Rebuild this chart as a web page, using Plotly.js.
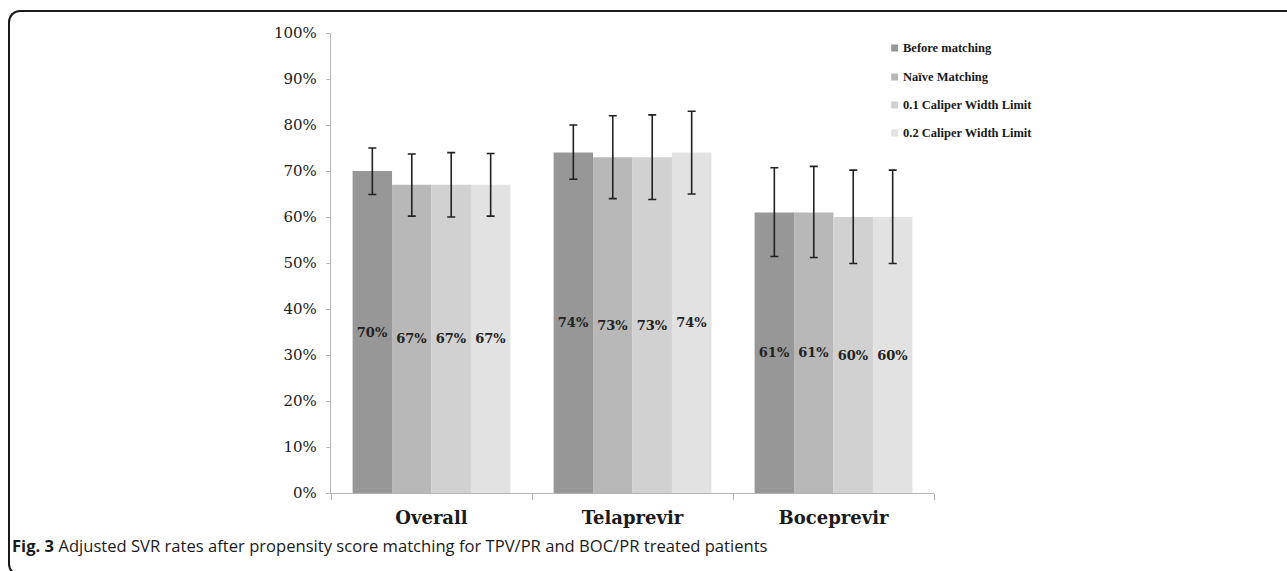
<!DOCTYPE html>
<html>
<head>
<meta charset="utf-8">
<script src="https://cdn.plot.ly/plotly-3.0.1.min.js"></script>
<style>
  html, body { margin:0; padding:0; background:#fff; }
  #chart { width:1287px; height:571px; position:absolute; left:0; top:0; }
  #frame { position:absolute; left:8px; top:10px; width:1300px; height:566px; box-sizing:border-box;
           border-top:2px solid #1a1a1a; border-left:2px solid #1a1a1a; border-bottom:2px solid #1a1a1a;
           border-radius:12px 0 0 12px; pointer-events:none; }
</style>
</head>
<body>
<div id="chart"></div>
<div id="frame"></div>
<script>
const categories = ["Overall", "Telaprevir", "Boceprevir"];
const seriesNames = ["Before matching", "Naïve Matching", "0.1 Caliper Width Limit", "0.2 Caliper Width Limit"];
const beforeMatching = [70, 74, 61];
const naiveMatching = [67, 73, 61];
const caliper01 = [67, 73, 60];
const caliper02 = [67, 74, 60];
const upperBefore = [75, 80, 70.7];
const lowerBefore = [64.9, 68.2, 51.4];
const upperNaive = [73.7, 82, 71];
const lowerNaive = [60.2, 64, 51.2];
const upperCal01 = [74, 82.2, 70.2];
const lowerCal01 = [60, 63.8, 49.9];
const upperCal02 = [73.8, 83, 70.2];
const lowerCal02 = [60.2, 65, 49.9];
const yTicks = [0, 10, 20, 30, 40, 50, 60, 70, 80, 90, 100];
const yTickLabels = ["0%", "10%", "20%", "30%", "40%", "50%", "60%", "70%", "80%", "90%", "100%"];

const colors = ["#979797", "#b8b8b8", "#d0d1d0", "#e2e2e2"];
const values = [beforeMatching, naiveMatching, caliper01, caliper02];
const uppers = [upperBefore, upperNaive, upperCal01, upperCal02];
const lowers = [lowerBefore, lowerNaive, lowerCal01, lowerCal02];

const traces = values.map((v, i) => ({
  type: 'bar',
  name: seriesNames[i],
  x: categories,
  y: v,
  marker: { color: colors[i], line: { width: 0 } },
  text: v.map(n => n + '%'),
  textposition: 'inside',
  insidetextanchor: 'middle',
  textangle: 0,
  textfont: { family: 'DejaVu Serif', size: 13, color: '#222', weight: 'bold' },
  error_y: {
    type: 'data', symmetric: false,
    array: uppers[i].map((u, k) => u - v[k]),
    arrayminus: lowers[i].map((l, k) => v[k] - l),
    color: '#222', thickness: 1.6, width: 4
  },
  showlegend: false,
  hoverinfo: 'skip'
}));

const legendY = [0.9674, 0.9043, 0.8435, 0.7826];
const shapes = [];
const annotations = [];
seriesNames.forEach((nm, i) => {
  const cy = legendY[i];
  shapes.push({ type: 'rect', xref: 'paper', yref: 'paper',
    x0: 0.9290, x1: 0.9405, y0: cy - 0.0076, y1: cy + 0.0076,
    fillcolor: colors[i], line: { width: 0 } });
  annotations.push({ xref: 'paper', yref: 'paper', x: 0.9445, y: cy, xanchor: 'left', yanchor: 'middle',
    text: nm, showarrow: false,
    font: { family: 'Liberation Serif', size: 12.5, color: '#1a1a1a', weight: 'bold' } });
});
annotations.push({ xref: 'paper', yref: 'paper', x: -0.532, y: -0.115, xanchor: 'left', yanchor: 'middle',
  text: '<b>Fig. 3</b> Adjusted SVR rates after propensity score matching for TPV/PR and BOC/PR treated patients',
  showarrow: false, font: { family: 'Open Sans', size: 16.6, color: '#1a1a1a' } });

const layout = {
  width: 1287, height: 571,
  margin: { l: 331, r: 353, t: 33, b: 78, pad: 0 },
  paper_bgcolor: 'rgba(0,0,0,0)', plot_bgcolor: 'rgba(0,0,0,0)',
  barmode: 'group', bargap: 0.215, bargroupgap: 0,
  xaxis: {
    type: 'category', showline: true, linecolor: '#b5b5b5', linewidth: 1.2,
    ticks: 'outside', tickson: 'boundaries', ticklen: 6, tickcolor: '#b5b5b5',
    ticklabelstandoff: 8,
    tickfont: { family: 'DejaVu Serif', size: 18, color: '#1a1a1a', weight: 'bold' },
    showgrid: false, zeroline: false
  },
  yaxis: {
    range: [0, 100], tickmode: 'array', tickvals: yTicks, ticktext: yTickLabels,
    showline: true, linecolor: '#b5b5b5', linewidth: 1.2,
    ticks: 'outside', ticklen: 4, tickcolor: '#b5b5b5',
    ticklabelstandoff: 6,
    tickfont: { family: 'DejaVu Serif', size: 15, color: '#1a1a1a' },
    showgrid: false, zeroline: false
  },
  shapes: shapes,
  annotations: annotations,
  showlegend: false
};

Plotly.newPlot('chart', traces, layout, { staticPlot: true, displayModeBar: false });
</script>
</body>
</html>
